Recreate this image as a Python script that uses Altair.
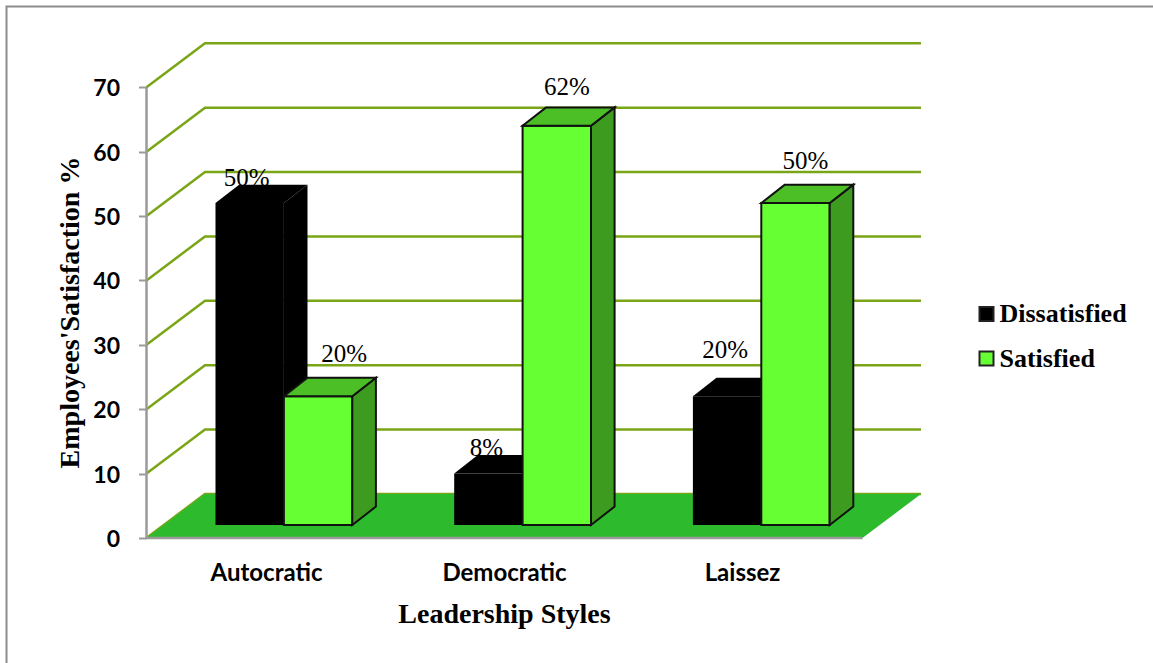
import altair as alt
import pandas as pd

categories = ["Autocratic", "Democratic", "Laissez"]
series = ["Dissatisfied", "Satisfied"]
dissatisfied = [50, 8, 20]
satisfied = [20, 62, 50]
y_ticks = [0, 10, 20, 30, 40, 50, 60, 70]

# Each value label's horizontal nudge and text baseline (px).
label_dx = {("Dissatisfied", 0): -3, ("Satisfied", 0): 26,
            ("Dissatisfied", 1): -2, ("Satisfied", 1): 10,
            ("Dissatisfied", 2): -2, ("Satisfied", 2): 10}
label_base = {("Dissatisfied", 0): 186, ("Satisfied", 0): 362,
              ("Dissatisfied", 1): 456, ("Satisfied", 1): 95,
              ("Dissatisfied", 2): 358, ("Satisfied", 2): 169}

W, H = 1153, 663
AXIS_X, ZERO_Y, UNIT = 146.5, 538.0, 6.439
WALL_DX, WALL_DY = 58.5, 44.0
FLOOR_RIGHT = 921.0
GROUP_LEFT, GROUP_STEP, BAR_W = 215.5, 238.7, 68.4
BAR_DX, BAR_DY, BAR_BASE_DY = 23.6, 18.4, 13.0


def units(px):
    """Convert a vertical pixel distance into value units."""
    return px / UNIT


x_scale = alt.Scale(domain=[0, W], range=[0, W], nice=False, zero=False)
y_scale = alt.Scale(domain=[(ZERO_Y - H) / UNIT, ZERO_Y / UNIT], nice=False, zero=False)
color_scale = alt.Scale(domain=series, range=["#000000", "#66ff33"])

X = alt.X("x:Q", scale=x_scale, axis=None)
Y = alt.Y("y:Q", scale=y_scale, axis=None)

# Open frame: left and top edges only
frame_df = pd.DataFrame({
    "i": [0, 1, 2],
    "x": [6.5, 6.5, W],
    "y": [(ZERO_Y - H) / UNIT, (ZERO_Y - 6.5) / UNIT, (ZERO_Y - 6.5) / UNIT],
})
frame = alt.Chart(frame_df).mark_line(color="#8c8c8c", strokeWidth=2).encode(x=X, y=Y, order="i:Q")

# Floor of the 3D box
floor_df = pd.DataFrame({
    "y": [0, units(WALL_DY)],
    "x": [AXIS_X, AXIS_X + WALL_DX],
    "x2": [FLOOR_RIGHT - WALL_DX, FLOOR_RIGHT],
})
floor = alt.Chart(floor_df).mark_area(orient="horizontal", color="#2dbb2d").encode(
    y=Y, x=X, x2="x2:Q"
)

# Gridlines run up the side wall and then along the back wall
grid_rows = []
for t in y_ticks:
    grid_rows += [
        {"t": t, "i": 0, "x": AXIS_X, "y": t},
        {"t": t, "i": 1, "x": AXIS_X + WALL_DX, "y": t + units(WALL_DY)},
        {"t": t, "i": 2, "x": FLOOR_RIGHT, "y": t + units(WALL_DY)},
    ]
grid = alt.Chart(pd.DataFrame(grid_rows)).mark_line(color="#7aa516", strokeWidth=2.5).encode(
    x=X, y=Y, detail="t:N", order="i:Q"
)

# Front edge of the floor
edge_df = pd.DataFrame({"x": [AXIS_X], "x2": [FLOOR_RIGHT - WALL_DX], "y": [0]})
edge = alt.Chart(edge_df).mark_rule(color="#9a9a9a", strokeWidth=2.5).encode(x=X, x2="x2:Q", y=Y)

# Line of the value axis
axis_line_df = pd.DataFrame({"x": [AXIS_X], "y": [0], "y2": [70]})
axis_line = alt.Chart(axis_line_df).mark_rule(color="#9a9a9a", strokeWidth=2.5).encode(
    x=X, y=Y, y2="y2:Q"
)

rows = []
base = units(BAR_BASE_DY)
for s_i, (s, vals) in enumerate(zip(series, [dissatisfied, satisfied])):
    for c_i, (c, v) in enumerate(zip(categories, vals)):
        left = GROUP_LEFT + c_i * GROUP_STEP + s_i * BAR_W
        rows.append({"series": s, "category": c, "value": v, "left": left, "right": left + BAR_W,
                     "bottom": base, "top": base + v,
                     "label": f"{v}%",
                     "label_x": left + BAR_W / 2 + label_dx[(s, c_i)],
                     "label_y": (ZERO_Y - label_base[(s, c_i)]) / UNIT})
bars = pd.DataFrame(rows)

side_rows, top_rows = [], []
for _, b in bars.iterrows():
    key = f"{b.series}-{b.category}"
    side_rows += [
        {"key": key, "series": b.series, "x": b.right, "y": b.top, "y2": b.bottom},
        {"key": key, "series": b.series, "x": b.right + BAR_DX, "y": b.top + units(BAR_DY),
         "y2": b.bottom + units(BAR_DY)},
    ]
    top_rows += [
        {"key": key, "series": b.series, "y": b.top, "x": b.left, "x2": b.right},
        {"key": key, "series": b.series, "y": b.top + units(BAR_DY), "x": b.left + BAR_DX,
         "x2": b.right + BAR_DX},
    ]
side_df = pd.DataFrame(side_rows)
top_df = pd.DataFrame(top_rows)


def side_layer(df, **style):
    return alt.Chart(df).mark_area(**style).encode(x=X, y=Y, y2="y2:Q", detail="key:N")


def top_layer(df, **style):
    return alt.Chart(df).mark_area(orient="horizontal", **style).encode(
        y=Y, x=X, x2="x2:Q", detail="key:N"
    )


black_side = side_layer(side_df[side_df.series == "Dissatisfied"], color="#000000")
black_top = top_layer(top_df[top_df.series == "Dissatisfied"], color="#000000")
green_side = side_layer(side_df[side_df.series == "Satisfied"], color="#3d9c1f",
                        stroke="#111111", strokeWidth=2)
green_top = top_layer(top_df[top_df.series == "Satisfied"], color="#4cbf27",
                      stroke="#111111", strokeWidth=2)

front = alt.Chart(bars).mark_rect(strokeWidth=2).encode(
    x=alt.X("left:Q", scale=x_scale, axis=None),
    x2="right:Q",
    y=alt.Y("bottom:Q", scale=y_scale, axis=None),
    y2="top:Q",
    stroke=alt.condition(alt.datum.series == "Satisfied", alt.value("#111111"), alt.value("#000000")),
    strokeOpacity=alt.condition(alt.datum.series == "Satisfied", alt.value(1), alt.value(0)),
    color=alt.Color(
        "series:N", scale=color_scale,
        legend=alt.Legend(
            orient="none", legendX=973.5, legendY=301, title=None,
            symbolType="square", symbolSize=196, symbolStrokeColor="#222222", symbolStrokeWidth=2,
            labelFont="Liberation Serif", labelFontWeight="bold", labelFontSize=26,
            labelColor="#000000", rowPadding=18.5, labelOffset=0,
        ),
    ),
)

labels = alt.Chart(bars).mark_text(
    font="Liberation Serif", fontSize=25, color="#000000", baseline="alphabetic", align="center"
).encode(
    x=alt.X("label_x:Q", scale=x_scale, axis=None),
    y=alt.Y("label_y:Q", scale=y_scale, axis=None),
    text="label:N",
)

# Invisible layer that only carries the two real axes
centers = [266, 504, 742]
label_lookup = ", ".join(f"'{p}': '{c}'" for p, c in zip(centers, categories))
axes_df = pd.DataFrame({"x": centers, "y": [0, 0, 0]})
axes = alt.Chart(axes_df).mark_point(opacity=0).encode(
    x=alt.X(
        "x:Q", scale=x_scale,
        axis=alt.Axis(
            orient="bottom", offset=-(H - ZERO_Y), values=centers,
            labelExpr="{" + label_lookup + "}[datum.value]",
            domain=False, ticks=False, grid=False, labelPadding=23,
            labelFont="Lato", labelFontWeight="bold", labelFontSize=24, labelColor="#000000",
            labelOverlap=False,
            title="Leadership Styles", titleFont="Liberation Serif", titleFontWeight="bold",
            titleFontSize=28, titleColor="#000000", titleX=504, titleY=62, titleAnchor="middle",
        ),
    ),
    y=alt.Y(
        "y:Q", scale=y_scale,
        axis=alt.Axis(
            orient="left", offset=-AXIS_X, values=y_ticks, grid=False, domain=False,
            tickColor="#9a9a9a", tickWidth=2, tickSize=8, labelPadding=19,
            labelFont="Lato", labelFontWeight="bold", labelFontSize=23, labelColor="#000000",
            labelOverlap=False, labelOffset=1.5,
            title="Employees'Satisfaction %", titleFont="Liberation Serif", titleFontWeight="bold",
            titleFontSize=28, titleColor="#000000", titleX=-62, titleY=312,
        ),
    ),
)

chart = alt.layer(
    frame, grid, floor, edge, axis_line, axes,
    black_side, black_top, front, green_side, green_top, labels,
).resolve_axis(x="independent", y="independent").properties(
    width=W, height=H, padding=0,
    autosize=alt.AutoSizeParams(type="none"),
    background="#ffffff",
).configure_view(stroke=None)

chart.save("out.html", embed_options={"renderer": "svg", "actions": False})
